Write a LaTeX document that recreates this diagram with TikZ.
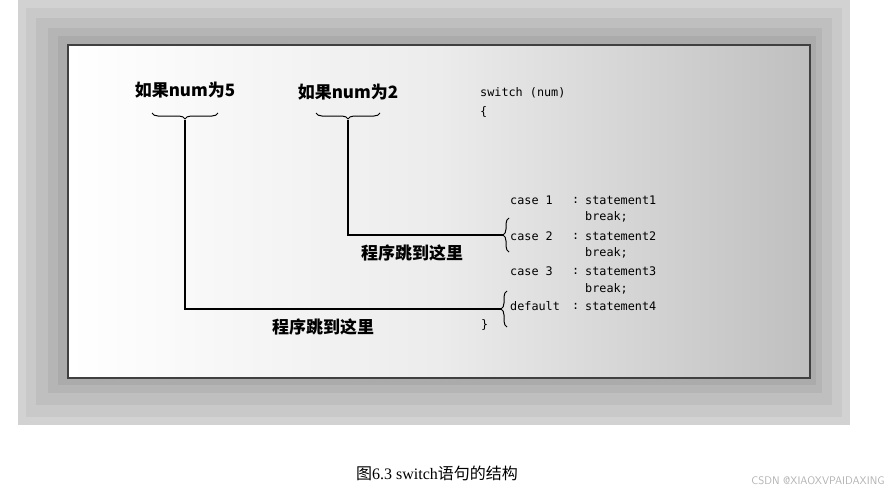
\documentclass[tikz,border=0pt]{standalone}
\usepackage{fontspec}
\setmonofont{DejaVu Sans Mono}
\newfontfamily\cjk{Noto Sans CJK SC}
\newfontfamily\capfont{Liberation Serif}
\usetikzlibrary{decorations.pathreplacing,positioning}
\tikzset{
	codeText/.style={font=\ttfamily\fontsize{11.8}{12}\selectfont, anchor=west, inner sep=0pt},
	jumpLabel/.style={font=\cjk\bfseries\fontsize{17}{18}\selectfont, inner sep=0pt},
	jumpLine/.style={line width=1.3pt, black},
	jumpBrace/.style={line width=1pt, decorate, decoration={brace, amplitude=6pt}}
}
\begin{document}
\begin{tikzpicture}[x=1pt,y=-1pt]
	\useasboundingbox (0,0) rectangle (892,498);
	
	% outer frame
	\fill[white] (0,0) rectangle (892,498);
	\fill[gray!35] (18,0) rectangle (850,425);
	\fill[gray!42] (26,8) rectangle (842,417);
	\fill[gray!50] (36,18) rectangle (832,405);
	\fill[gray!58] (48,28) rectangle (822,393);
	\fill[gray!66] (58,36) rectangle (816,385);
	
	% inner panel
	\shade[left color=white, right color=gray!50, middle color=gray!15] (68,45) rectangle (810,378);
	\draw[line width=1.3pt, black!75] (68,45) rectangle (810,378);
	
	% code
	\node[codeText] (sw) at (480,93) {switch (num)};
	\node[codeText] (ob) at (480,112) {\{};
	\foreach \y/\c/\s in {200/case 1/statement1, 236/case 2/statement2, 271/case 3/statement3} {
		\node[codeText] at (510,\y) {\c};
		\node[codeText] at (572,\y) {:};
		\node[codeText] at (585,\y) {\s};
	}
	\foreach \y in {217,253,289}
		\node[codeText] at (585,\y) {break;};
	\node[codeText] (df) at (510,306) {default};
	\node[codeText] at (572,306) {:};
	\node[codeText] at (585,306) {statement4};
	\node[codeText] (cb) at (481,325) {\}};
	
	% labels
	\node[jumpLabel] (ifFive) at (185,90) {如果num为5};
	\node[jumpLabel] (ifTwo) at (348,92) {如果num为2};
	\node[jumpLabel] (jumpTwo) at (412,253) {程序跳到这里};
	\node[jumpLabel] (jumpFive) at (323,327) {程序跳到这里};
	
	% braces and jump lines
	\draw[jumpBrace] (218,113) -- (152,113) coordinate[midway] (fiveTip);
	\draw[jumpBrace] (380,113) -- (316,113) coordinate[midway] (twoTip);
	\draw[jumpBrace] (509,252) -- (509,218) coordinate[midway] (caseTwo);
	\draw[jumpBrace] (507,327) -- (507,291) coordinate[midway] (caseDef);
	\draw[jumpLine] ([yshift=-7pt]fiveTip) |- ([xshift=-6pt]caseDef);
	\draw[jumpLine] ([yshift=-7pt]twoTip) |- ([xshift=-6pt]caseTwo);
	
	% caption
	\node[font=\cjk\fontsize{16}{18}\selectfont] (cap) at (437,473) {图{\capfont 6.3 switch}语句的结构};
	\node[font=\sffamily\fontsize{11}{12}\selectfont, text=gray!60, anchor=east] (mark) at (888,481) {CSDN @XIAOXVPAIDAXING};
\end{tikzpicture}
\end{document}
